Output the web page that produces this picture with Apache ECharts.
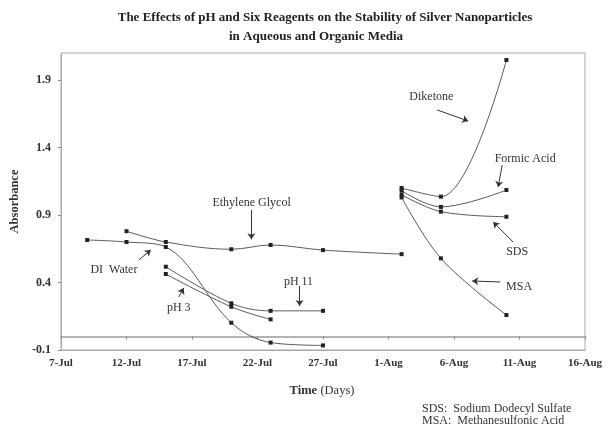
<!DOCTYPE html>
<html>
<head>
<meta charset="utf-8">
<script src="https://cdn.jsdelivr.net/npm/echarts@6/dist/echarts.min.js"></script>
<style>html,body{margin:0;padding:0;background:#fff}#c{width:608px;height:429px}</style>
</head>
<body>
<div id="c"></div>
<script>
// x values are days after 7-Jul
const xTickLabels = ['7-Jul','12-Jul','17-Jul','22-Jul','27-Jul','1-Aug','6-Aug','11-Aug','16-Aug'];
const yTickValues = [-0.1, 0.4, 0.9, 1.4, 1.9];

const diWaterDays = [2, 5, 8, 13, 16, 20];
const diWaterVals = [0.715, 0.70, 0.663, 0.102, -0.045, -0.066];

const glycolDays = [5, 8, 13, 16, 20, 26];
const glycolVals = [0.78, 0.70, 0.646, 0.678, 0.64, 0.61];

const ph3Days = [8, 13, 16];
const ph3Vals = [0.463, 0.22, 0.127];

const ph11Days = [8, 13, 16, 20];
const ph11Vals = [0.517, 0.246, 0.19, 0.19];

const diketoneDays = [26, 29, 34];
const diketoneVals = [1.10, 1.036, 2.048];

const formicDays = [26, 29, 34];
const formicVals = [1.08, 0.96, 1.085];

const sdsDays = [26, 29, 34];
const sdsVals = [1.05, 0.925, 0.887];

const msaDays = [26, 29, 34];
const msaVals = [1.03, 0.579, 0.159];

// annotation labels: [text, day, absorbance]
const noteLabels = [
  ['Diketone', 28.27, 1.774],
  ['Formic Acid', 35.43, 1.315],
  ['SDS', 34.82, 0.626],
  ['MSA', 34.97, 0.367],
  ['Ethylene Glycol', 14.55, 0.989],
  ['DI  Water', 4.04, 0.493],
  ['pH 3', 8.99, 0.211],
  ['pH 11', 18.13, 0.404]
];
// annotation arrows: [fromDay, fromAbs, toDay, toAbs]
const noteArrows = [
  [28.72, 1.678, 31.09, 1.596],
  [33.68, 1.270, 33.37, 1.107],
  [34.51, 0.700, 32.99, 0.848],
  [33.52, 0.404, 31.39, 0.411],
  [14.53, 0.937, 14.53, 0.720],
  [5.94, 0.567, 6.86, 0.641],
  [8.99, 0.293, 9.37, 0.359],
  [18.21, 0.374, 18.21, 0.226]
];

const serif = 'Liberation Serif';
const lineColor = '#5a5a5a';

function pairs(xs, ys) { return xs.map((x, i) => [x, ys[i]]); }
function mkSeries(name, xs, ys) {
  return {
    name: name, type: 'line', data: pairs(xs, ys), smooth: 0.35,
    symbol: 'rect', symbolSize: 4,
    itemStyle: { color: '#222' },
    lineStyle: { color: lineColor, width: 1 },
    xAxisIndex: 0, yAxisIndex: 0, z: 3
  };
}

const chart = echarts.init(document.getElementById('c'), null, { renderer: 'canvas' });
const option = {
  animation: false,
  backgroundColor: '#fff',
  grid: { left: 60, right: 23, top: 53, bottom: 79, show: true, borderColor: '#a8a8a8', borderWidth: 1 },
  xAxis: [
    {
      type: 'value', min: 0, max: 40, interval: 5, position: 'bottom',
      axisLine: { onZero: true, lineStyle: { color: '#9a9a9a', width: 1.5 } },
      axisTick: { show: true, length: 3, lineStyle: { color: '#888' } },
      axisLabel: { show: false }, splitLine: { show: false }
    },
    {
      type: 'value', min: 0, max: 40, interval: 5, position: 'bottom',
      axisLine: { onZero: false, show: true, lineStyle: { color: '#a8a8a8' } },
      axisTick: { show: false }, splitLine: { show: false },
      axisLabel: {
        margin: 8, color: '#333', fontFamily: serif, fontWeight: 'bold', fontSize: 11,
        formatter: v => xTickLabels[Math.round(v / 5)] || ''
      }
    }
  ],
  yAxis: {
    type: 'value', min: -0.1, max: 2.1, interval: 0.5,
    name: 'Absorbance', nameLocation: 'middle', nameGap: 40,
    nameTextStyle: { color: '#333', fontFamily: serif, fontWeight: 'bold', fontSize: 12.5 },
    axisLine: { onZero: false, show: true, lineStyle: { color: '#a8a8a8' } },
    axisTick: { show: true, length: 3, lineStyle: { color: '#888' } },
    splitLine: { show: false },
    axisLabel: {
      margin: 10, color: '#333', fontFamily: serif, fontWeight: 'bold', fontSize: 12,
      showMaxLabel: false,
      formatter: v => {
        const t = yTickValues.find(k => Math.abs(k - v) < 1e-6);
        return t === undefined ? '' : t.toFixed(1);
      }
    }
  },
  series: [
    mkSeries('DI Water', diWaterDays, diWaterVals),
    mkSeries('Ethylene Glycol', glycolDays, glycolVals),
    mkSeries('pH 3', ph3Days, ph3Vals),
    mkSeries('pH 11', ph11Days, ph11Vals),
    mkSeries('Diketone', diketoneDays, diketoneVals),
    mkSeries('Formic Acid', formicDays, formicVals),
    mkSeries('SDS', sdsDays, sdsVals),
    mkSeries('MSA', msaDays, msaVals),
    {
      name: 'notes', type: 'scatter', data: [], xAxisIndex: 0, yAxisIndex: 0, silent: true,
      markLine: {
        silent: true, animation: false,
        symbol: ['none', 'arrow'], symbolSize: 6,
        lineStyle: { color: '#333', width: 1, type: 'solid' },
        label: { show: false },
        data: noteArrows.map(a => [{ coord: [a[0], a[1]] }, { coord: [a[2], a[3]] }])
      },
      markPoint: {
        silent: true, animation: false, symbol: 'circle', symbolSize: 0,
        itemStyle: { color: 'rgba(0,0,0,0)' },
        label: { show: true, position: 'inside', color: '#333', fontFamily: serif, fontSize: 12, formatter: p => p.name },
        data: noteLabels.map(n => ({ name: n[0], coord: [n[1], n[2]] }))
      }
    }
  ],
  graphic: [
    { type: 'text', x: 325, y: 18, style: { text: 'The Effects of pH and Six Reagents on the Stability of Silver Nanoparticles', fill: '#222', font: 'bold 13px "Liberation Serif"', textAlign: 'center', textVerticalAlign: 'middle' } },
    { type: 'text', x: 316, y: 37, style: { text: 'in Aqueous and Organic Media', fill: '#222', font: 'bold 13px "Liberation Serif"', textAlign: 'center', textVerticalAlign: 'middle' } },
    { type: 'text', x: 322, y: 391, style: { text: '{b|Time} {n|(Days)}', textAlign: 'center', textVerticalAlign: 'middle',
        rich: { b: { fill: '#333', fontFamily: serif, fontWeight: 'bold', fontSize: 12.5 }, n: { fill: '#333', fontFamily: serif, fontSize: 12.5 } } } },
    { type: 'text', x: 422, y: 409, style: { text: 'SDS:  Sodium Dodecyl Sulfate', fill: '#333', font: '12px "Liberation Serif"', textAlign: 'left', textVerticalAlign: 'middle' } },
    { type: 'text', x: 422, y: 421, style: { text: 'MSA:  Methanesulfonic Acid', fill: '#333', font: '12px "Liberation Serif"', textAlign: 'left', textVerticalAlign: 'middle' } }
  ]
};
chart.setOption(option);
</script>
</body>
</html>
